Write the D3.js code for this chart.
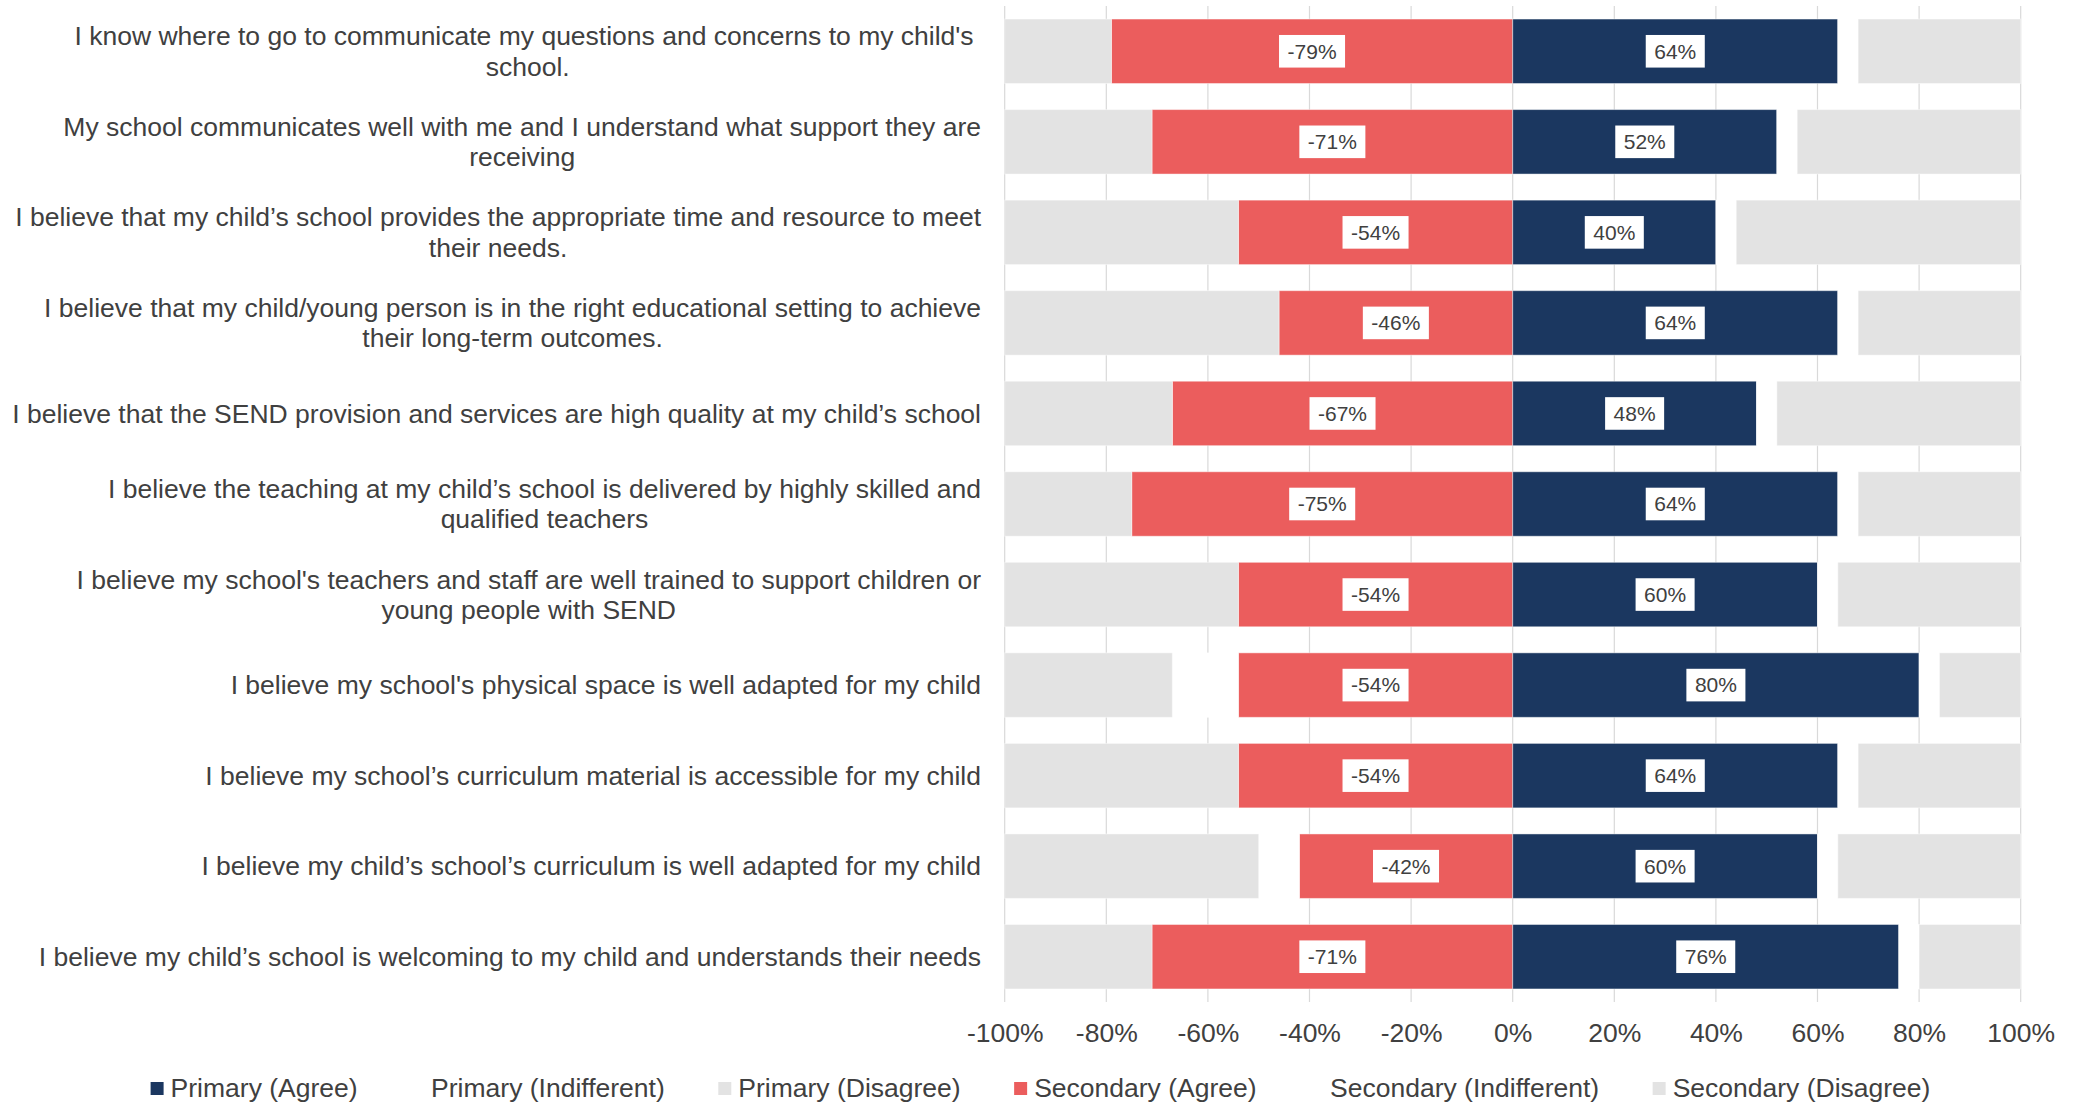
<!DOCTYPE html>
<html>
<head>
<meta charset="utf-8">
<script src="https://cdn.jsdelivr.net/npm/d3@7"></script>
<style>
  html, body { margin: 0; padding: 0; background: #ffffff; }
  svg { display: block; font-family: "Liberation Sans", Arial, sans-serif; }
</style>
</head>
<body>
<svg id="chart" width="2075" height="1116"></svg>
<script>
// Survey statements (line breaks as wrapped in the axis; the first keeps its trailing space)
const statements = [
  "I know where to go to communicate my questions and concerns to my child's\u00A0\nschool.",
  "My school communicates well with me and I understand what support they are\nreceiving",
  "I believe that my child\u2019s school provides the appropriate time and resource to meet\ntheir needs.",
  "I believe that my child/young person is in the right educational setting to achieve\ntheir long-term outcomes.",
  "I believe that the SEND provision and services are high quality at my child\u2019s school",
  "I believe the teaching at my child\u2019s school is delivered by highly skilled and\nqualified teachers",
  "I believe my school's teachers and staff are well trained to support children or\nyoung people with SEND",
  "I believe my school's physical space is well adapted for my child",
  "I believe my school\u2019s curriculum material is accessible for my child",
  "I believe my child\u2019s school\u2019s curriculum is well adapted for my child",
  "I believe my child\u2019s school is welcoming to my child and understands their needs"
];

// Percentages of respondents, per statement
const primaryAgree         = [64, 52, 40, 64, 48, 64, 60, 80, 64, 60, 76];
const primaryIndifferent   = [ 4,  4,  4,  4,  4,  4,  4,  4,  4,  4,  4];
const primaryDisagree      = [32, 44, 56, 32, 48, 32, 36, 16, 32, 36, 20];
const secondaryAgree       = [79, 71, 54, 46, 67, 75, 54, 54, 54, 42, 71];
const secondaryIndifferent = [ 0,  0,  0,  0,  0,  0,  0, 13,  0,  8,  0];
const secondaryDisagree    = [21, 29, 46, 54, 33, 25, 46, 33, 46, 50, 29];

const xTicks = [-100, -80, -60, -40, -20, 0, 20, 40, 60, 80, 100];

const legendNames = [
  "Primary (Agree)", "Primary (Indifferent)", "Primary (Disagree)",
  "Secondary (Agree)", "Secondary (Indifferent)", "Secondary (Disagree)"
];

const colors = {
  primaryAgree: "#1B3760",
  indifferent: "#FFFFFF",
  disagree: "#E3E3E3",
  secondaryAgree: "#EB5D5D"
};
const legendColors = [colors.primaryAgree, colors.indifferent, colors.disagree,
                      colors.secondaryAgree, colors.indifferent, colors.disagree];

const textColor = "#404040";
const fontSize = 26.5;
const svg = d3.select("#chart");

const x = d3.scaleLinear().domain([-100, 100]).range([1004.7, 2020.7]);
const y = d3.scaleBand()
  .domain(d3.range(statements.length))
  .range([6, 1002])
  .paddingInner(0.288)
  .paddingOuter(0.144);

// Vertical gridlines
svg.append("g")
  .selectAll("line")
  .data(xTicks)
  .join("line")
  .attr("x1", d => x(d)).attr("x2", d => x(d))
  .attr("y1", 6).attr("y2", 1002)
  .attr("stroke", "#D9D9D9")
  .attr("stroke-width", 1.2);

// Segments: secondary grows to the left of zero, primary to the right
const segments = [];
statements.forEach((s, i) => {
  const sa = secondaryAgree[i], si = secondaryIndifferent[i], sd = secondaryDisagree[i];
  const pa = primaryAgree[i], pi = primaryIndifferent[i], pd = primaryDisagree[i];
  segments.push({ i, x0: -sa, x1: 0, fill: colors.secondaryAgree });
  segments.push({ i, x0: -(sa + si), x1: -sa, fill: colors.indifferent });
  segments.push({ i, x0: -(sa + si + sd), x1: -(sa + si), fill: colors.disagree });
  segments.push({ i, x0: 0, x1: pa, fill: colors.primaryAgree });
  segments.push({ i, x0: pa, x1: pa + pi, fill: colors.indifferent });
  segments.push({ i, x0: pa + pi, x1: pa + pi + pd, fill: colors.disagree });
});

svg.append("g")
  .selectAll("rect")
  .data(segments.filter(d => d.x1 > d.x0))
  .join("rect")
  .attr("x", d => x(d.x0))
  .attr("width", d => x(d.x1) - x(d.x0))
  .attr("y", d => y(d.i))
  .attr("height", y.bandwidth())
  .attr("fill", d => d.fill)
  .attr("stroke", "#ffffff")
  .attr("stroke-opacity", 0.45)
  .attr("stroke-width", 1);

// Value labels in white boxes, centred on the agree segments
const valueLabels = [];
statements.forEach((s, i) => {
  valueLabels.push({ i, cx: -secondaryAgree[i] / 2, text: "-" + secondaryAgree[i] + "%" });
  valueLabels.push({ i, cx: primaryAgree[i] / 2, text: primaryAgree[i] + "%" });
});

const lab = svg.append("g")
  .selectAll("g")
  .data(valueLabels)
  .join("g")
  .attr("transform", d => `translate(${x(d.cx)},${y(d.i) + y.bandwidth() / 2})`);
lab.append("rect").attr("fill", "#ffffff");
const labText = lab.append("text")
  .attr("text-anchor", "middle")
  .attr("dy", "0.35em")
  .attr("font-size", 21)
  .attr("fill", textColor)
  .text(d => d.text);
labText.each(function () {
  const w = this.getComputedTextLength();
  d3.select(this.previousSibling)
    .attr("x", -w / 2 - 8.5).attr("width", w + 17)
    .attr("y", -16.3).attr("height", 32.6);
});

// Statement labels: each block right-aligned, lines centred within the block
const labelRight = 981;
const lineH = 30.4;
const catG = svg.append("g")
  .selectAll("text")
  .data(statements.map((s, i) => ({ i, lines: s.split("\n") })))
  .join("text")
  .attr("font-size", fontSize)
  .attr("fill", textColor)
  .attr("text-anchor", "middle");
catG.each(function (d) {
  const t = d3.select(this);
  const yc = y(d.i) + y.bandwidth() / 2;
  const n = d.lines.length;
  d.lines.forEach((line, k) => {
    t.append("tspan")
      .attr("y", yc + (k - (n - 1) / 2) * lineH)
      .attr("dy", "0.35em")
      .text(line);
  });
  let maxW = 0;
  t.selectAll("tspan").each(function () {
    maxW = Math.max(maxW, this.getComputedTextLength());
  });
  t.selectAll("tspan").attr("x", labelRight - maxW / 2);
});

// X axis tick labels
const xAxis = d3.axisBottom(x)
  .tickValues(xTicks)
  .tickSize(0)
  .tickPadding(0)
  .tickFormat(d => d + "%");
const axisG = svg.append("g")
  .attr("transform", "translate(0,1033)")
  .call(xAxis);
axisG.select(".domain").remove();
axisG.selectAll("text")
  .attr("dy", "0.35em")
  .attr("y", 0)
  .attr("font-size", fontSize)
  .attr("font-family", "'Liberation Sans', Arial, sans-serif")
  .attr("fill", textColor);

// Legend
const legendG = svg.append("g").attr("transform", "translate(0,1087.5)");
const items = legendG.selectAll("g")
  .data(legendNames.map((name, k) => ({ name, color: legendColors[k] })))
  .join("g");
items.append("rect")
  .attr("width", 13).attr("height", 13)
  .attr("y", -5.5)
  .attr("fill", d => d.color);
items.append("text")
  .attr("x", 20)
  .attr("dy", "0.35em")
  .attr("font-size", fontSize)
  .attr("fill", textColor)
  .text(d => d.name);
const itemGap = 53.5;
const widths = [];
items.select("text").each(function () { widths.push(20 + this.getComputedTextLength()); });
const total = d3.sum(widths) + itemGap * (widths.length - 1);
let cursor = 1040.5 - total / 2;
items.attr("transform", (d, k) => {
  const tx = cursor;
  cursor += widths[k] + itemGap;
  return `translate(${tx},0)`;
});
</script>
</body>
</html>
